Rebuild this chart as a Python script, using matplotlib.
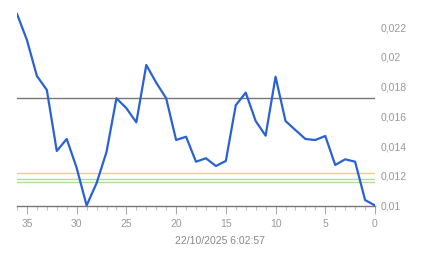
import matplotlib
matplotlib.use('Agg')
import matplotlib.pyplot as plt
from matplotlib.ticker import FuncFormatter, MultipleLocator

plt.rcParams['font.family'] = ['Liberation Sans', 'DejaVu Sans']

# samples ago (36 .. 0) and measured values
ago = list(range(36, -1, -1))
values = [0.0229, 0.02114, 0.01872, 0.01778, 0.01367, 0.01448, 0.01253, 0.0100,
          0.0115, 0.0136, 0.01722, 0.01655, 0.01560, 0.01946, 0.01827, 0.01722,
          0.01441, 0.01463, 0.01295, 0.01318, 0.01266, 0.01300, 0.01675, 0.01760,
          0.01569, 0.01470, 0.01867, 0.01569, 0.01508, 0.01448, 0.01441, 0.01468,
          0.01273, 0.01311, 0.01295, 0.01037, 0.0100]

# reference levels
ref_dark = 0.01722
ref_yellow = 0.01219
ref_green = [0.01176, 0.01156]

timestamp = '22/10/2025 6:02:57'

W, H = 443, 258
fig = plt.figure(figsize=(W / 100, H / 100), dpi=100)
ax = fig.add_axes([17 / W, 52.5 / H, (375 - 17) / W, (205.5 - 5) / H])

ax.axhline(ref_dark, color='#777777', lw=1.0, zorder=2)
ax.axhline(ref_yellow, color='#f0d070', lw=1.0, zorder=2)
for g in ref_green:
    ax.axhline(g, color='#b0dc98', lw=1.0, zorder=2)

ax.plot(ago, values, color='#2a62d6', lw=1.6, zorder=3, solid_joinstyle='round')

ax.set_xlim(36, 0)
ax.set_ylim(0.01, 0.0235)

for s in ['top', 'right', 'left']:
    ax.spines[s].set_visible(False)
ax.spines['bottom'].set_color('#777777')
ax.spines['bottom'].set_linewidth(1.0)

ax.xaxis.set_major_locator(MultipleLocator(5))
ax.xaxis.set_minor_locator(MultipleLocator(1))
ax.tick_params(axis='x', which='major', length=6, width=0.8, color='#aaaaaa',
               pad=4, labelsize=7.5, labelcolor='#999999', direction='out')
ax.tick_params(axis='x', which='minor', length=3, width=0.8, color='#c0c0c0',
               direction='out')

ax.yaxis.tick_right()
ax.set_yticks([0.010, 0.012, 0.014, 0.016, 0.018, 0.020, 0.022])
ax.yaxis.set_major_formatter(FuncFormatter(lambda v, p: f'{v:g}'.replace('.', ',')))
ax.tick_params(axis='y', length=0, pad=4, labelsize=7.5, labelcolor='#999999')

fig.text(220 / W, 1 - 241 / H, timestamp, ha='center', va='center',
         fontsize=7.5, color='#888888')

fig.savefig('out.png', dpi=100)
